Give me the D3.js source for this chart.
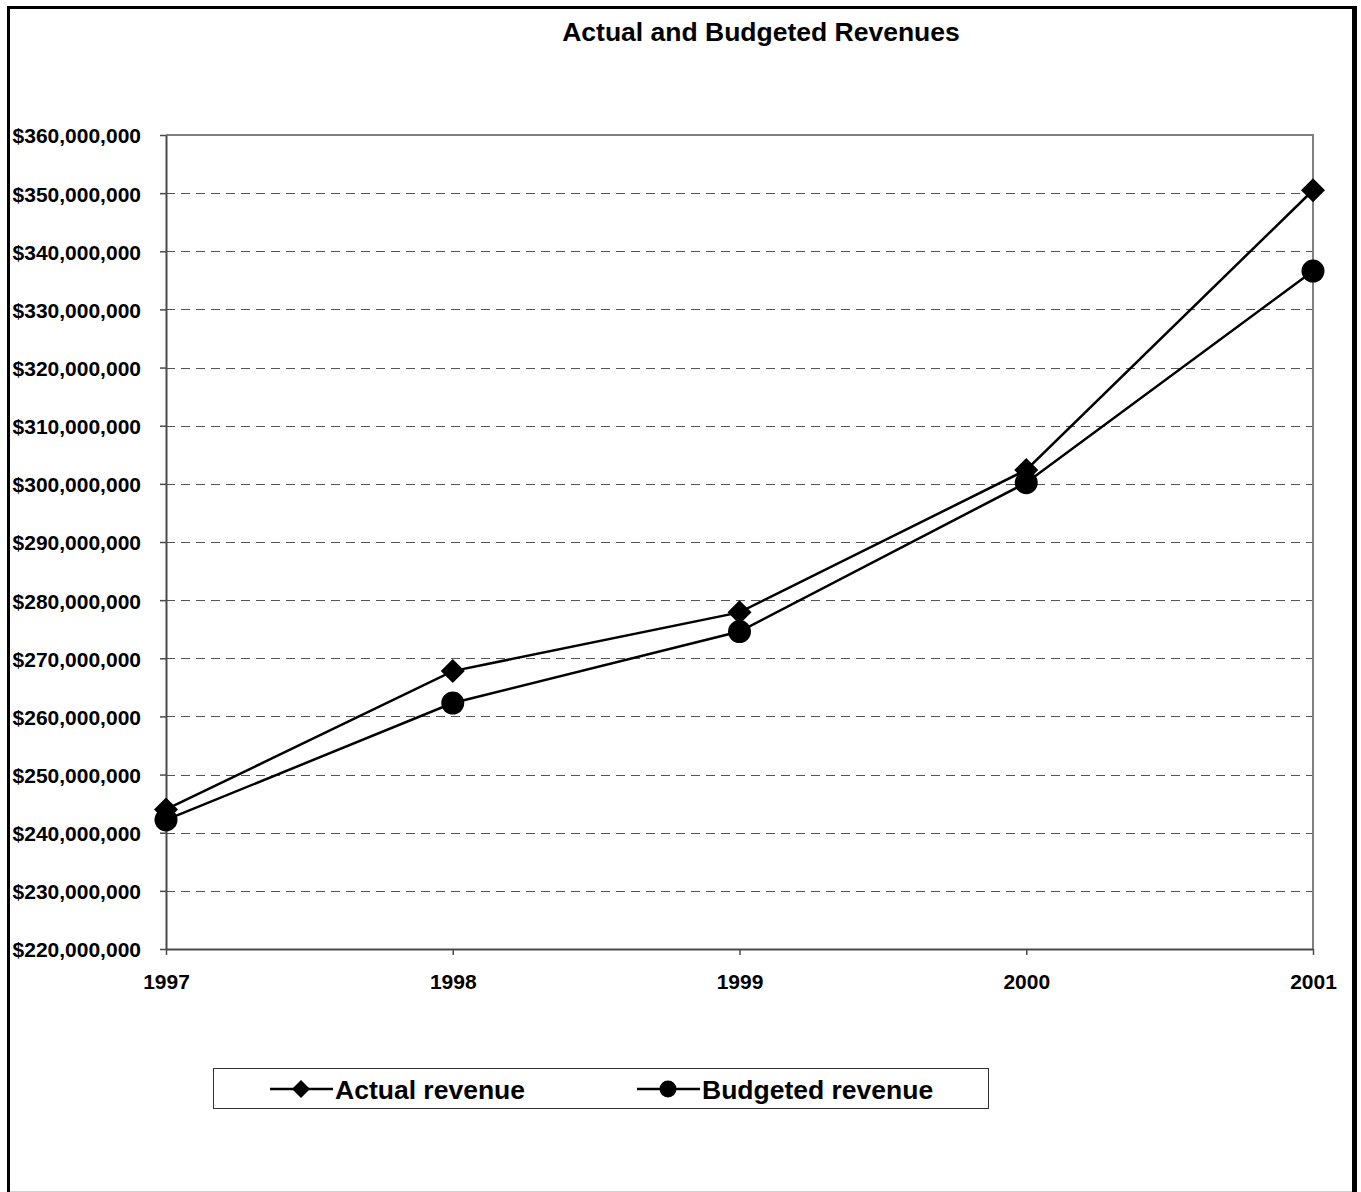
<!DOCTYPE html>
<html>
<head>
<meta charset="utf-8">
<script src="https://cdn.jsdelivr.net/npm/d3@7"></script>
<style>
  html, body { margin: 0; padding: 0; background: #fff; }
  svg { display: block; }
  text { font-family: "Liberation Sans", Arial, sans-serif; font-weight: bold; fill: #000; }
</style>
</head>
<body>
<svg id="chart" width="1361" height="1192"></svg>
<script>
// Revenue data, in dollars
const years = ["1997", "1998", "1999", "2000", "2001"];
const actualRevenue = [244000000, 267800000, 277900000, 302400000, 350500000];
const budgetedRevenue = [242200000, 262300000, 274600000, 300200000, 336600000];
const yTickValues = [220000000, 230000000, 240000000, 250000000, 260000000, 270000000,
  280000000, 290000000, 300000000, 310000000, 320000000, 330000000, 340000000,
  350000000, 360000000];
const titleText = "Actual and Budgeted Revenues";
const seriesNames = ["Actual revenue", "Budgeted revenue"];

const svg = d3.select("#chart");
const plot = { left: 166, right: 1313, top: 135, bottom: 949 };

const x = d3.scalePoint().domain(years).range([plot.left, plot.right]);
const y = d3.scaleLinear().domain([220000000, 360000000]).range([plot.bottom, plot.top]);

// Outer frame
svg.append("line").attr("x1", 8.5).attr("x2", 8.5).attr("y1", 6).attr("y2", 1192)
  .attr("stroke", "#000").attr("stroke-width", 3);
svg.append("line").attr("x1", 7).attr("x2", 1357).attr("y1", 7.5).attr("y2", 7.5)
  .attr("stroke", "#000").attr("stroke-width", 3);
svg.append("line").attr("x1", 1354.5).attr("x2", 1354.5).attr("y1", 6).attr("y2", 1192)
  .attr("stroke", "#000").attr("stroke-width", 5);
svg.append("line").attr("x1", 10).attr("x2", 1352).attr("y1", 1191.5).attr("y2", 1191.5)
  .attr("stroke", "#d0d0d0").attr("stroke-width", 1);

// Title
svg.append("text").attr("x", 761).attr("y", 41).attr("text-anchor", "middle")
  .style("font-size", "26.5px").text(titleText);

// Dashed gridlines
svg.append("g").selectAll("line")
  .data(yTickValues.filter(v => v > 220000000 && v < 360000000))
  .join("line")
  .attr("x1", plot.left).attr("x2", plot.right)
  .attr("y1", d => Math.round(y(d)) + 0.5).attr("y2", d => Math.round(y(d)) + 0.5)
  .attr("stroke", "#555").attr("stroke-width", 1).attr("stroke-dasharray", "9,6");

// Plot area top and right edges
svg.append("path")
  .attr("d", `M${plot.left},${plot.top}H${plot.right}V${plot.bottom}`)
  .attr("fill", "none").attr("stroke", "#808080").attr("stroke-width", 2);

// Axes
const yAxis = svg.append("g").attr("transform", `translate(${plot.left},0)`)
  .call(d3.axisLeft(y).tickValues(yTickValues).tickFormat(d3.format("$,"))
    .tickSize(6).tickSizeOuter(0).tickPadding(19));
yAxis.selectAll("text").style("font-size", "21px").attr("dy", "0.38em");

const xAxis = svg.append("g").attr("transform", `translate(0,${plot.bottom})`)
  .call(d3.axisBottom(x).tickSize(6).tickSizeOuter(0).tickPadding(19));
xAxis.selectAll("text").style("font-size", "21px");

[yAxis, xAxis].forEach(g => {
  g.select(".domain").attr("stroke", "#4a4a4a").attr("stroke-width", 2);
  g.selectAll(".tick line").attr("stroke", "#4a4a4a").attr("stroke-width", 1.5);
  g.selectAll("text").attr("font-family", null).style("fill", "#000");
});

// Series lines
const line = d3.line().x((d, i) => x(years[i])).y(d => y(d));
[actualRevenue, budgetedRevenue].forEach(vals => {
  svg.append("path").datum(vals).attr("d", line)
    .attr("fill", "none").attr("stroke", "#000").attr("stroke-width", 2.5);
});

// Markers
const diamond = r => `M0,${-r}L${r},0L0,${r}L${-r},0Z`;
svg.append("g").selectAll("path").data(actualRevenue).join("path")
  .attr("transform", (d, i) => `translate(${x(years[i])},${y(d)})`)
  .attr("d", diamond(12)).attr("fill", "#000");
svg.append("g").selectAll("circle").data(budgetedRevenue).join("circle")
  .attr("cx", (d, i) => x(years[i])).attr("cy", d => y(d)).attr("r", 11.5).attr("fill", "#000");

// Legend
const legend = svg.append("g");
legend.append("rect").attr("x", 213.5).attr("y", 1068.5).attr("width", 775).attr("height", 40)
  .attr("fill", "#fff").attr("stroke", "#333").attr("stroke-width", 1);
const legendItems = [
  { name: seriesNames[0], x0: 270, marker: "diamond" },
  { name: seriesNames[1], x0: 637, marker: "circle" }
];
legendItems.forEach(item => {
  const g = legend.append("g").attr("transform", `translate(${item.x0},1089)`);
  g.append("line").attr("x1", 0).attr("x2", 63).attr("y1", 0).attr("y2", 0)
    .attr("stroke", "#000").attr("stroke-width", 2.5);
  if (item.marker === "diamond") {
    g.append("path").attr("transform", "translate(31,0)").attr("d", diamond(9)).attr("fill", "#000");
  } else {
    g.append("circle").attr("cx", 31).attr("cy", 0).attr("r", 8.5).attr("fill", "#000");
  }
  g.append("text").attr("x", 65).attr("y", 9.5).style("font-size", "26.5px").text(item.name);
});
</script>
</body>
</html>
